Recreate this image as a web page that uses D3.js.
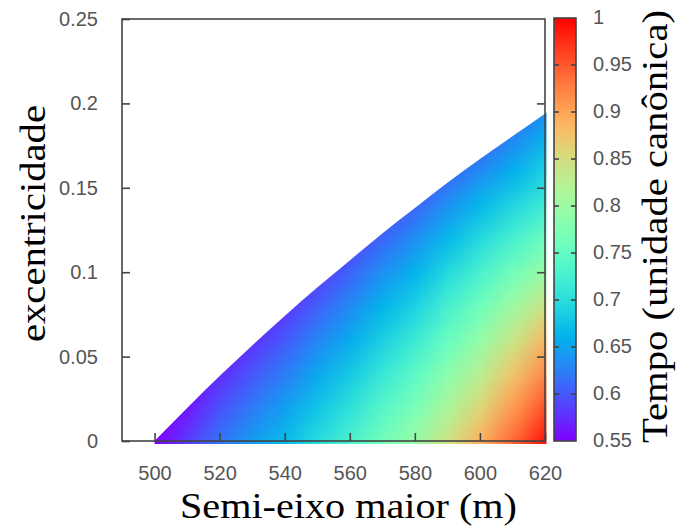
<!DOCTYPE html>
<html>
<head>
<meta charset="utf-8">
<script src="https://cdn.jsdelivr.net/npm/d3@7"></script>
<style>
  html, body { margin: 0; padding: 0; background: #fff; }
  svg { display: block; }
</style>
</head>
<body>
<svg id="chart" width="679" height="531"></svg>
<script>
// ---- data ----
const semiEixo = [500, 510, 520, 530, 540, 550, 560, 570, 580, 590, 600, 610, 620];
const excentricidade = [0, 0.02, 0.04, 0.06, 0.08, 0.10, 0.12, 0.14, 0.16, 0.18, 0.20];
// tempo[i][j] = time at semiEixo[i], excentricidade[j] (null = outside domain)
const tempo = [
  [0.550, null, null, null, null, null, null, null, null, null, null],
  [0.585, 0.564, null, null, null, null, null, null, null, null, null],
  [0.620, 0.598, null, null, null, null, null, null, null, null, null],
  [0.645, 0.623, 0.601, null, null, null, null, null, null, null, null],
  [0.670, 0.648, 0.625, 0.603, null, null, null, null, null, null, null],
  [0.700, 0.677, 0.654, 0.630, 0.607, null, null, null, null, null, null],
  [0.730, 0.706, 0.682, 0.657, 0.633, 0.609, null, null, null, null, null],
  [0.765, 0.739, 0.714, 0.688, 0.663, 0.637, 0.611, null, null, null, null],
  [0.800, 0.773, 0.746, 0.718, 0.691, 0.664, 0.637, 0.610, null, null, null],
  [0.845, 0.815, 0.786, 0.756, 0.727, 0.697, 0.667, 0.638, null, null, null],
  [0.890, 0.858, 0.826, 0.794, 0.762, 0.730, 0.698, 0.666, 0.634, null, null],
  [0.940, 0.907, 0.874, 0.840, 0.803, 0.765, 0.728, 0.693, 0.660, 0.630, null],
  [0.990, 0.955, 0.920, 0.885, 0.845, 0.800, 0.760, 0.720, 0.690, 0.660, null]
];
// upper edge of the filled region (max eccentricity at each semiEixo)
const fronteira = [0, 0.0196, 0.0385, 0.0566, 0.0741, 0.0909, 0.107, 0.123, 0.138, 0.153, 0.167, 0.1805, 0.1945];

const xTicks = [500, 520, 540, 560, 580, 600, 620];
const yTicks = [0, 0.05, 0.1, 0.15, 0.2, 0.25];
const yTickLabels = ["0", "0.05", "0.1", "0.15", "0.2", "0.25"];
const cbTicks = [0.55, 0.6, 0.65, 0.7, 0.75, 0.8, 0.85, 0.9, 0.95, 1];
const cbTickLabels = ["0.55", "0.6", "0.65", "0.7", "0.75", "0.8", "0.85", "0.9", "0.95", "1"];
const xTitle = "Semi-eixo maior (m)";
const yTitle = "excentricidade";
const cbTitle = "Tempo (unidade canônica)";

// ---- drawing ----
const svg = d3.select("#chart");
const P = { left: 122, right: 545, top: 19, bottom: 441 };
const x = d3.scaleLinear().domain([490, 620]).range([P.left, P.right]);
const y = d3.scaleLinear().domain([0, 0.25]).range([P.bottom, P.top]);
const cy = d3.scaleLinear().domain([0.55, 1]).range([441, 18]);

// gnuplot rgbformulae 33,13,10 palette
function palette(t) {
  t = Math.max(0, Math.min(1, t));
  const cl = v => Math.max(0, Math.min(1, v));
  const r = cl(Math.abs(2 * t - 0.5));
  const g = cl(Math.sin(Math.PI * t));
  const b = cl(Math.cos(Math.PI * t / 2));
  return d3.rgb(r * 255, g * 255, b * 255);
}
const color = d3.scaleSequential(palette).domain([0.55, 1]).clamp(true);

// heatmap image from the grid
const nA = semiEixo.length, nE = excentricidade.length;
const canvas = document.createElement("canvas");
canvas.width = nA; canvas.height = nE;
const ctx = canvas.getContext("2d");
const img = ctx.createImageData(nA, nE);
for (let i = 0; i < nA; i++) {
  const col = tempo[i].slice();
  const valid = col.map((v, j) => v != null ? j : -1).filter(j => j >= 0);
  const last = valid[valid.length - 1];
  for (let j = 0; j < nE; j++) {
    if (col[j] == null) {
      if (valid.length >= 2) {
        const dv = col[last] - col[last - 1];
        col[j] = col[last] + dv * (j - last);
      } else col[j] = col[last];
    }
    const c = color(col[j]);
    const p = ((nE - 1 - j) * nA + i) * 4;
    img.data[p] = c.r; img.data[p + 1] = c.g; img.data[p + 2] = c.b; img.data[p + 3] = 255;
  }
}
ctx.putImageData(img, 0, 0);

const da = semiEixo[1] - semiEixo[0];
const de = excentricidade[1] - excentricidade[0];

const defs = svg.append("defs");
const clipPts = semiEixo.map((a, i) => [x(a), y(fronteira[i])]);
const area = d3.area()
  .x(d => d[0])
  .y0(y(0) + 3)
  .y1(d => d[1])
  .curve(d3.curveMonotoneX);
const clipData = clipPts.slice();
clipData[clipData.length - 1] = [clipData[clipData.length - 1][0] + 1.5, clipData[clipData.length - 1][1]];
defs.append("clipPath").attr("id", "region")
  .append("path").attr("d", area(clipData));

svg.append("image")
  .attr("href", canvas.toDataURL())
  .attr("x", x(semiEixo[0] - da / 2))
  .attr("y", y(excentricidade[nE - 1] + de / 2))
  .attr("width", x(semiEixo[nA - 1] + da / 2) - x(semiEixo[0] - da / 2))
  .attr("height", y(excentricidade[0] - de / 2) - y(excentricidade[nE - 1] + de / 2))
  .attr("preserveAspectRatio", "none")
  .attr("clip-path", "url(#region)");

// axes
const axisColor = "#444";
const tickFont = "'Liberation Sans', Arial, sans-serif";

function styleAxis(g) {
  g.select(".domain").remove();
  g.selectAll(".tick line").attr("stroke", axisColor).attr("stroke-width", 1.6);
  g.selectAll(".tick text").attr("fill", "#555").attr("font-family", tickFont).attr("font-size", 20);
}

svg.append("g").attr("transform", `translate(0,${P.bottom})`)
  .call(d3.axisBottom(x).tickValues(xTicks).tickSize(-8).tickPadding(25).tickFormat(d3.format("d")))
  .call(styleAxis);
svg.append("g").attr("transform", `translate(${P.left},0)`)
  .call(d3.axisLeft(y).tickValues(yTicks).tickSize(-8).tickPadding(24).tickFormat((d, i) => yTickLabels[i]))
  .call(styleAxis);
svg.append("g").attr("transform", `translate(${P.right},0)`)
  .call(d3.axisRight(y).tickValues(yTicks.slice(1, -1)).tickSize(-8).tickFormat(""))
  .call(styleAxis);

svg.append("rect")
  .attr("x", P.left).attr("y", P.top)
  .attr("width", P.right - P.left).attr("height", P.bottom - P.top)
  .attr("fill", "none").attr("stroke", axisColor).attr("stroke-width", 1.6);

// colour bar
const cb = { x0: 554, x1: 576 };
const grad = defs.append("linearGradient").attr("id", "cbgrad")
  .attr("x1", 0).attr("y1", 1).attr("x2", 0).attr("y2", 0);
d3.range(0, 1.0001, 0.02).forEach(t => {
  grad.append("stop").attr("offset", t).attr("stop-color", color(0.55 + t * 0.45));
});
svg.append("rect")
  .attr("x", cb.x0).attr("y", cy(1))
  .attr("width", cb.x1 - cb.x0).attr("height", cy(0.55) - cy(1))
  .attr("fill", "url(#cbgrad)").attr("stroke", axisColor).attr("stroke-width", 1.6);

const inner = cbTicks.slice(1, -1);
svg.append("g").selectAll("line.l").data(inner).join("line")
  .attr("x1", cb.x0).attr("x2", cb.x0 + 5)
  .attr("y1", d => cy(d)).attr("y2", d => cy(d))
  .attr("stroke", axisColor).attr("stroke-width", 1.6);
svg.append("g").selectAll("line.r").data(inner).join("line")
  .attr("x1", cb.x1 - 5).attr("x2", cb.x1)
  .attr("y1", d => cy(d)).attr("y2", d => cy(d))
  .attr("stroke", axisColor).attr("stroke-width", 1.6);
svg.append("g").selectAll("text").data(cbTicks).join("text")
  .attr("x", 593).attr("y", d => cy(d)).attr("dy", "0.32em")
  .attr("fill", "#555").attr("font-family", tickFont).attr("font-size", 20)
  .text((d, i) => cbTickLabels[i]);

// titles
const serif = "'Liberation Serif', 'Times New Roman', serif";
svg.append("text")
  .attr("x", 180).attr("y", 518)
  .attr("font-family", serif).attr("font-size", 36).attr("fill", "#000")
  .attr("textLength", 337).attr("lengthAdjust", "spacingAndGlyphs")
  .text(xTitle);
svg.append("text")
  .attr("transform", "translate(45,342) rotate(-90)")
  .attr("font-family", serif).attr("font-size", 36).attr("fill", "#000")
  .attr("textLength", 237).attr("lengthAdjust", "spacingAndGlyphs")
  .text(yTitle);
svg.append("text")
  .attr("transform", "translate(667,443) rotate(-90)")
  .attr("font-family", serif).attr("font-size", 36).attr("fill", "#000")
  .attr("textLength", 433).attr("lengthAdjust", "spacingAndGlyphs")
  .text(cbTitle);
</script>
</body>
</html>
